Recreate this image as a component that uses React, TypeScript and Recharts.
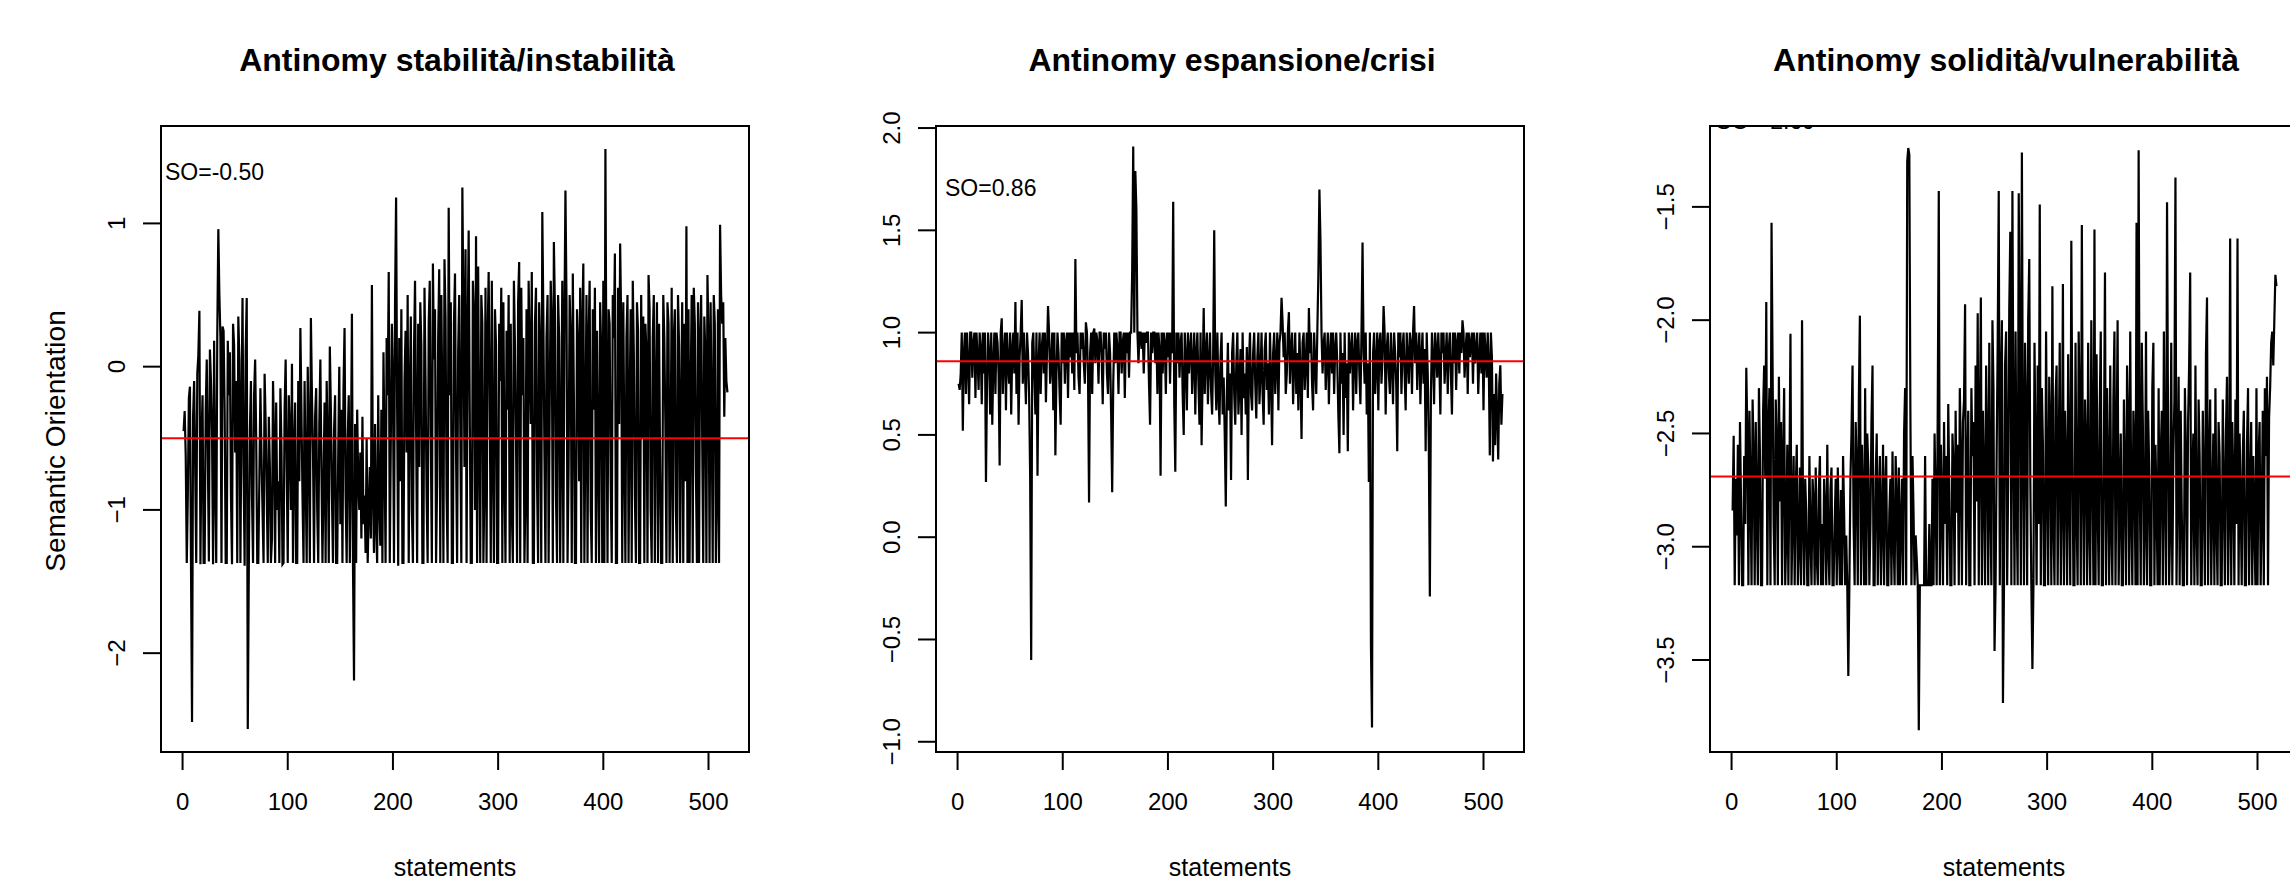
import { LineChart, Line, XAxis, YAxis, ReferenceLine } from 'recharts'

// semantic orientation per statement
const stabilita = [
  -0.45, -0.31, -0.62, -1.37, -0.9, -0.22, -0.14, -1.37, -2.48, -0.35, -0.1, -0.7, -1.37, -0.05, 0.08, 0.39, -1.38, -0.5, -0.2, -1.37,
  -1.37, -0.3, 0.05, -0.6, -1.36, 0.12, -0.1, -0.45, -1.38, 0.18, -0.8, -1.37, 0.22, 0.96, 0.5, 0.2, -1.37, 0.28, 0.25, -0.3,
  -1.37, -1.37, 0.18, -0.2, 0.1, -0.9, -1.38, 0.3, 0.15, -0.6, -0.1, -1.37, 0.35, 0.05, -1.37, -0.3, 0.48, -0.7, -1.39, 0.1,
  0.48, -2.53, -1.4, -0.45, -0.1, -0.9, -1.37, -0.2, 0.05, -0.5, -1.37, -1.37, -0.8, -0.15, -0.6, -1.0, -1.37, -0.05, -0.4, -0.9,
  -1.37, -0.35, -0.7, -1.37, -1.2, -0.1, -0.5, -1.37, -0.25, -1.0, -0.8, -1.37, -0.15, -0.55, -1.38, -1.37, -0.3, 0.05, -0.7, -1.37,
  -0.2, -0.45, -1.0, 0.02, -1.37, -0.6, -0.25, -1.37, -1.37, -0.1, -0.8, 0.27, -0.3, -0.9, -1.37, -0.1, -0.75, -1.37, 0.0, -0.5,
  -1.37, 0.34, -0.2, -0.6, -1.37, -0.35, -0.15, -1.0, -1.37, -0.4, 0.05, -0.7, -1.37, -0.8, -0.25, -1.37, -0.1, -0.55, -1.37, 0.14,
  -0.3, -0.9, -1.37, -0.45, -0.2, -1.37, -1.37, -0.6, 0.0, -1.1, -0.3, -1.37, -0.15, 0.27, -0.9, -1.37, -0.5, -0.2, -1.37, -0.7,
  0.37, -1.37, -2.19, -0.4, -1.37, -0.3, -0.8, -1.0, -0.6, -1.2, -0.35, -1.1, -0.9, -1.3, -0.5, -1.37, -1.0, -0.7, -1.2, 0.57,
  -0.9, -1.3, -0.4, -1.1, -1.37, -0.2, -0.95, -1.25, -0.3, -1.37, 0.1, -0.6, -1.37, 0.2, -0.2, 0.66, -1.37, -0.5, 0.3, -0.1,
  -1.37, 0.45, 1.18, -0.3, -1.39, 0.2, -0.8, 0.4, -1.37, -1.37, -0.1, 0.25, -0.6, 0.5, -1.37, -0.2, 0.35, -1.0, -1.37, 0.1,
  0.6, -0.4, -1.37, 0.3, -0.7, 0.45, 0.15, -1.37, -1.37, 0.55, -0.1, -0.9, -1.37, 0.3, 0.6, -0.5, -1.37, 0.72, 0.05, 0.4,
  -1.37, -0.8, 0.2, 0.68, -1.37, 0.5, -0.3, -1.37, 0.75, 0.35, -0.9, -1.37, 1.11, -0.2, 0.45, -1.37, -1.37, 0.3, 0.65, -0.6,
  -1.37, 0.1, 0.5, -0.4, -1.37, 1.25, 0.4, -0.7, 0.82, -1.37, 0.2, 0.95, -0.3, -1.37, -1.37, 0.6, 0.35, -1.0, 0.91, -1.37,
  0.7, -0.5, -1.37, 0.5, 0.3, -1.37, -0.8, 0.55, -1.37, 0.2, 0.66, -0.2, -1.37, 0.6, -0.6, -1.37, 0.4, 0.15, -1.37, -1.37,
  0.3, -0.1, 0.55, -1.37, 0.45, -0.7, -1.37, 0.25, -0.3, 0.5, -1.37, 0.3, -1.0, -1.37, 0.6, 0.15, -0.5, -1.37, 0.45, 0.73,
  -1.37, 0.55, -0.2, 0.2, -1.37, -0.9, 0.4, -1.37, 0.6, 0.1, -0.4, 0.66, -1.37, -1.37, 0.3, 0.55, -0.8, -1.37, 0.45, 0.1,
  -1.37, 1.08, 0.35, -0.6, -1.37, 0.2, 0.5, -1.37, -0.3, 0.6, 0.3, -1.37, 0.87, 0.4, -0.9, -1.37, 0.5, 0.2, -1.37, -0.5,
  0.6, -1.37, 0.3, 1.23, 0.45, -1.37, -0.7, 0.5, 0.2, -1.37, 0.65, -0.2, -1.37, -1.37, 0.4, 0.15, -0.8, 0.55, -1.37, 0.3,
  0.72, -1.37, -0.4, 0.5, -1.37, 0.2, 0.6, -1.0, -1.37, 0.4, -0.3, 0.55, -1.37, 0.25, -0.6, -1.37, 0.45, 0.1, -1.37, 0.6,
  -1.37, 1.52, -0.2, -1.37, 0.4, 0.3, -0.8, -1.37, 0.5, 0.2, 0.79, -1.37, -1.37, 0.55, -0.4, 0.86, 0.3, -1.37, 0.45, -0.6,
  -1.37, 0.2, 0.5, -1.37, -0.3, 0.4, -1.37, 0.6, 0.1, -0.9, -1.37, 0.45, 0.25, -1.37, -1.37, 0.5, -0.5, 0.35, -1.37, 0.3,
  0.1, -1.37, 0.64, 0.4, -1.0, -1.37, 0.2, 0.5, -1.37, -0.2, 0.45, -1.37, 0.3, -0.7, -1.37, -1.37, 0.5, 0.2, -0.4, -1.37,
  0.45, 0.3, -1.37, -0.6, 0.55, -1.37, 0.2, 0.4, -1.0, -1.37, 0.5, 0.15, -1.37, -0.3, 0.45, -1.37, 0.3, -0.8, 0.98, -1.37,
  0.4, -1.37, -0.2, 0.5, -1.37, 0.55, 0.3, -0.7, -1.37, 0.45, -1.37, 0.2, 0.5, -0.5, -1.37, 0.35, 0.1, -1.37, 0.64, 0.2,
  -1.37, 0.45, -0.3, -1.37, 0.5, 0.3, -1.37, -0.9, 0.4, -1.37, 0.99, 0.5, 0.3, 0.45, -0.35, 0.2, -0.1, -0.18,
]

const espansione = [
  0.75, 0.72, 0.8, 1.0, 0.52, 0.9, 1.0, 0.7, 1.0, 0.85, 0.65, 1.0, 1.0, 0.78, 0.95, 1.0, 0.68, 1.0, 0.88, 0.72,
  1.0, 0.92, 0.65, 1.0, 0.8, 1.0, 0.27, 0.75, 1.0, 0.9, 0.6, 1.0, 0.55, 0.85, 1.0, 0.7, 1.0, 0.95, 0.8, 0.35,
  1.0, 1.07, 0.7, 0.9, 1.0, 0.62, 1.0, 0.85, 0.75, 1.0, 0.6, 0.92, 1.0, 0.8, 1.15, 0.7, 1.0, 0.55, 0.88, 1.0,
  1.16, 0.75, 1.0, 0.82, 0.65, 1.0, 0.9, 0.7, 0.3, -0.6, 0.95, 1.0, 0.78, 0.6, 1.0, 0.3, 0.85, 1.0, 0.7, 0.92,
  1.0, 0.8, 1.0, 0.66, 0.9, 1.13, 1.0, 0.75, 0.85, 1.0, 0.62, 1.0, 0.4, 0.8, 1.0, 0.9, 0.7, 0.55, 1.0, 0.85,
  1.0, 0.75, 0.95, 1.0, 0.68, 1.0, 0.88, 1.0, 0.8, 1.0, 0.72, 1.36, 0.9, 1.0, 0.78, 0.7, 1.0, 0.92, 1.0, 0.85,
  0.75, 1.05, 1.0, 0.8, 0.17, 0.9, 1.0, 0.7, 1.0, 1.02, 0.85, 1.0, 0.95, 0.75, 1.0, 1.0, 0.88, 0.65, 1.0, 0.92,
  1.0, 0.8, 0.7, 1.0, 0.9, 0.6, 0.22, 0.75, 1.0, 0.85, 1.0, 0.92, 0.7, 1.0, 1.0, 0.8, 0.95, 1.0, 0.68, 1.0,
  0.9, 1.0, 0.78, 1.0, 1.0, 1.3, 1.91, 1.0, 1.79, 1.6, 1.0, 0.85, 1.0, 1.0, 0.92, 1.0, 0.8, 1.0, 0.95, 1.0,
  1.0, 0.75, 0.55, 1.0, 0.9, 1.0, 1.0, 0.85, 1.0, 0.7, 1.0, 0.92, 0.3, 1.0, 0.8, 1.0, 0.95, 0.7, 1.0, 0.88,
  1.0, 0.75, 1.0, 0.9, 1.64, 0.65, 0.32, 1.0, 0.85, 1.0, 0.78, 0.95, 1.0, 0.7, 0.5, 1.0, 0.88, 0.62, 1.0, 0.8,
  0.92, 1.0, 0.7, 0.85, 1.0, 0.6, 0.9, 1.0, 0.75, 0.55, 1.0, 0.45, 0.8, 1.12, 0.7, 0.9, 1.0, 0.65, 0.85, 1.0,
  0.72, 0.6, 0.9, 1.5, 0.8, 0.62, 1.0, 0.7, 0.55, 0.88, 1.0, 0.6, 0.78, 0.5, 0.15, 0.7, 0.95, 0.62, 0.8, 0.28,
  0.9, 1.0, 0.7, 0.55, 0.85, 1.0, 0.6, 0.75, 0.92, 0.5, 1.0, 0.68, 0.8, 0.6, 0.93, 0.28, 0.85, 1.0, 0.7, 0.62,
  0.9, 1.0, 0.75, 0.58, 0.88, 1.0, 0.65, 0.8, 1.0, 0.7, 0.55, 0.92, 1.0, 0.72, 0.85, 0.6, 1.0, 0.78, 0.45, 0.9,
  1.0, 0.7, 0.85, 1.0, 0.62, 0.95, 1.0, 1.17, 1.05, 0.88, 1.0, 0.7, 0.8, 1.0, 1.1, 0.75, 0.92, 1.0, 0.65, 0.85,
  1.0, 0.7, 0.9, 0.62, 1.0, 0.8, 0.48, 0.95, 1.0, 0.72, 0.85, 1.0, 0.68, 1.12, 0.9, 1.0, 0.75, 0.62, 1.0, 0.85,
  0.7, 1.0, 1.28, 1.7, 1.45, 1.0, 0.8, 0.95, 1.0, 0.72, 0.88, 1.0, 0.65, 0.9, 1.0, 0.8, 1.0, 0.7, 0.92, 1.0,
  0.85, 0.6, 0.41, 1.0, 0.75, 0.9, 0.5, 1.0, 0.68, 0.85, 0.42, 1.0, 0.8, 0.92, 1.0, 0.62, 0.88, 1.0, 0.7, 0.95,
  1.0, 0.8, 0.65, 1.0, 1.44, 0.9, 0.75, 1.0, 0.6, 0.85, 0.27, 1.0, -0.53, -0.93, 0.9, 1.0, 0.7, 0.85, 1.0, 0.62,
  0.95, 1.0, 0.75, 0.88, 1.13, 1.0, 0.6, 0.92, 1.0, 0.8, 0.7, 1.0, 0.85, 0.65, 1.0, 0.9, 0.75, 0.42, 1.0, 0.88,
  1.0, 0.7, 0.92, 1.0, 0.8, 0.62, 1.0, 0.88, 0.75, 1.0, 0.95, 0.7, 1.0, 1.13, 0.85, 1.0, 0.72, 0.9, 1.0, 0.65,
  0.88, 1.0, 0.75, 0.92, 0.42, 1.0, 0.8, 0.45, -0.29, 0.7, 1.0, 0.88, 0.65, 1.0, 0.92, 0.78, 1.0, 0.85, 0.6, 1.0,
  0.9, 1.0, 0.75, 0.88, 1.0, 0.7, 0.92, 1.0, 0.8, 0.6, 1.0, 0.85, 1.0, 0.72, 0.95, 1.0, 0.8, 1.0, 0.9, 1.06,
  1.0, 0.78, 0.92, 1.0, 0.7, 1.0, 0.88, 0.95, 1.0, 0.75, 1.0, 0.85, 0.92, 1.0, 0.7, 0.88, 1.0, 0.8, 1.0, 0.62,
  1.0, 0.9, 0.78, 1.0, 0.85, 0.4, 1.0, 0.88, 0.37, 0.7, 0.45, 0.8, 0.6, 0.38, 0.75, 0.84, 0.55, 0.7,
]

const solidita = [
  -2.84, -2.51, -3.17, -2.7, -2.95, -2.55, -3.17, -2.45, -2.8, -3.17, -3.17, -2.6, -2.9, -2.21, -2.5, -3.17, -2.4, -2.75, -3.17, -2.35,
  -2.6, -3.17, -2.45, -2.85, -3.17, -2.3, -2.6, -3.17, -3.17, -2.4, -2.2, -2.7, -1.92, -3.17, -2.5, -2.3, -3.17, -1.57, -2.2, -2.9,
  -3.17, -2.35, -2.55, -3.17, -2.25, -2.8, -2.45, -3.17, -2.6, -2.3, -3.17, -2.95, -2.55, -3.17, -2.7, -2.06, -3.17, -2.85, -2.6, -3.17,
  -2.75, -2.55, -3.17, -3.0, -2.65, -3.17, -2.0, -2.9, -3.17, -2.7, -2.85, -3.17, -3.17, -2.6, -2.95, -3.17, -2.7, -2.8, -3.17, -2.65,
  -3.05, -3.17, -2.75, -2.6, -3.17, -2.9, -3.17, -2.7, -2.85, -3.17, -2.55, -3.0, -3.17, -2.75, -2.65, -3.17, -3.17, -2.9, -2.7, -3.17,
  -2.65, -2.95, -3.17, -2.75, -3.17, -2.6, -2.85, -3.17, -2.95, -3.17, -3.57, -3.17, -2.7, -2.5, -2.2, -2.9, -3.17, -2.45, -2.65, -3.17,
  -2.35, -1.98, -3.17, -2.55, -2.8, -3.17, -2.3, -3.17, -2.5, -2.65, -3.17, -2.9, -2.45, -2.2, -3.17, -3.17, -2.7, -2.5, -3.17, -2.8,
  -2.6, -3.17, -2.9, -2.55, -3.17, -2.75, -2.6, -3.17, -3.17, -2.85, -2.7, -3.17, -2.58, -2.95, -3.17, -2.6, -2.8, -3.17, -2.65, -3.17,
  -2.9, -2.7, -3.17, -2.5, -2.3, -3.17, -1.3, -1.24, -1.27, -2.4, -3.17, -2.6, -2.85, -3.17, -2.95, -3.05, -3.17, -3.81, -3.17, -3.17,
  -3.17, -3.17, -3.17, -2.6, -3.17, -3.17, -3.17, -2.9, -3.17, -3.17, -2.7, -3.17, -2.5, -2.8, -3.17, -2.4, -1.43, -3.17, -2.55, -2.8,
  -3.17, -2.45, -2.9, -2.6, -3.17, -2.37, -2.75, -3.17, -3.17, -2.5, -2.65, -3.17, -2.4, -2.85, -2.55, -3.17, -2.3, -2.6, -3.17, -2.45,
  -2.35, -1.93, -3.17, -2.7, -2.4, -3.17, -3.17, -2.3, -2.6, -2.45, -3.17, -2.2, -2.8, -1.97, -3.17, -2.5, -1.9, -3.17, -2.4, -2.7,
  -3.17, -2.2, -2.55, -3.17, -2.1, -2.8, -3.17, -2.0, -2.3, -3.46, -3.17, -2.6, -2.1, -1.43, -3.17, -2.3, -2.0, -3.69, -3.17, -2.2,
  -2.05, -3.17, -2.7, -1.95, -1.61, -3.17, -1.43, -2.5, -3.17, -2.05, -2.8, -3.17, -1.44, -2.15, -3.17, -1.26, -2.6, -3.17, -2.1, -2.4,
  -3.17, -2.0, -1.73, -2.7, -3.17, -3.54, -3.17, -2.1, -2.6, -3.17, -2.2, -2.9, -1.49, -3.17, -2.3, -2.55, -3.17, -3.17, -2.05, -2.7,
  -3.17, -2.25, -2.5, -3.17, -1.85, -2.9, -3.17, -2.35, -2.2, -3.17, -2.6, -2.1, -3.17, -2.8, -1.84, -3.17, -2.4, -2.65, -3.17, -2.15,
  -2.75, -3.17, -1.65, -2.5, -3.17, -3.17, -2.1, -2.85, -3.17, -2.05, -2.4, -3.17, -1.58, -2.7, -3.17, -2.35, -2.55, -3.17, -2.1, -2.9,
  -3.17, -2.0, -2.6, -3.17, -1.6, -3.17, -2.15, -2.8, -3.17, -2.4, -2.05, -3.17, -3.17, -2.55, -1.79, -3.17, -2.3, -2.7, -3.17, -2.2,
  -2.9, -3.17, -2.35, -2.05, -3.17, -2.6, -2.0, -3.17, -2.8, -2.5, -3.17, -3.17, -2.35, -2.7, -3.17, -2.2, -2.45, -3.17, -2.05, -2.85,
  -3.17, -2.4, -2.6, -3.17, -1.57, -3.17, -1.25, -2.7, -3.17, -2.1, -2.45, -3.17, -2.9, -2.05, -3.17, -2.4, -2.65, -3.17, -3.17, -2.3,
  -2.1, -3.17, -2.55, -2.8, -3.17, -2.3, -3.17, -2.6, -2.4, -3.17, -2.05, -2.75, -3.17, -1.48, -2.5, -3.17, -2.9, -2.1, -3.17, -2.6,
  -2.35, -1.37, -3.17, -2.7, -2.25, -3.17, -2.4, -2.85, -3.17, -3.17, -2.3, -2.6, -3.17, -2.45, -2.2, -1.79, -3.17, -2.7, -2.5, -3.17,
  -2.2, -2.9, -3.17, -2.35, -2.6, -3.17, -3.17, -2.4, -2.75, -3.17, -2.15, -1.9, -3.17, -2.65, -2.35, -3.17, -2.8, -2.5, -3.17, -2.3,
  -2.9, -3.17, -2.45, -2.6, -3.17, -3.17, -2.35, -2.75, -3.17, -2.5, -2.25, -3.17, -2.85, -1.64, -3.17, -2.45, -2.7, -3.17, -2.35, -2.9,
  -1.64, -3.17, -2.5, -2.8, -3.17, -2.6, -2.4, -3.17, -3.17, -2.55, -2.3, -3.17, -2.75, -2.45, -3.17, -2.6, -2.9, -3.17, -2.3, -3.17,
  -2.6, -2.45, -3.17, -2.85, -2.4, -3.17, -2.3, -2.6, -2.25, -3.17, -2.43, -2.3, -2.1, -2.05, -2.2, -2.0, -1.8, -1.85,
]

const xTicks = [0, 100, 200, 300, 400, 500]
const xDomain: [number, number] = [-20.5, 538.5]

const FONT = '"Liberation Sans", Arial, Helvetica, sans-serif'
const BOX_TOP = 126
const BOX_BOTTOM = 752
const BOX_W = 588

const panels = [
  {
    title: 'Antinomy stabilità/instabilità',
    boxLeft: 161,
    values: stabilita,
    mean: -0.5,
    meanLabel: 'SO=-0.50',
    yDomain: [-2.69, 1.68] as [number, number],
    yTicks: [-2, -1, 0, 1],
    digits: 0,
  },
  {
    title: 'Antinomy espansione/crisi',
    boxLeft: 936,
    values: espansione,
    mean: 0.86,
    meanLabel: 'SO=0.86',
    yDomain: [-1.05, 2.01] as [number, number],
    yTicks: [-1, -0.5, 0, 0.5, 1, 1.5, 2],
    digits: 1,
  },
  {
    title: 'Antinomy solidità/vulnerabilità',
    boxLeft: 1710,
    values: solidita,
    mean: -2.69,
    meanLabel: 'SO=-2.69',
    yDomain: [-3.906, -1.143] as [number, number],
    yTicks: [-3.5, -3, -2.5, -2, -1.5],
    digits: 1,
  },
]

const fmt = (v: number, digits: number) => {
  const s = Math.abs(v).toFixed(digits)
  return v < 0 ? '\u2212' + s : s
}

function RotTick(props: any) {
  const { y, payload, digits } = props
  const bx = 114
  return (
    <text
      x={bx}
      y={y}
      transform={`rotate(-90 ${bx} ${y})`}
      textAnchor="middle"
      fontSize={24}
      fontFamily={FONT}
      fill="#000"
    >
      {fmt(payload.value, digits)}
    </text>
  )
}

function Panel({ p }: { p: (typeof panels)[number] }) {
  const data = p.values.map((v, i) => ({ statement: i + 1, so: v }))
  return (
    <div style={{ position: 'absolute', left: p.boxLeft - 150, top: 0 }}>
      <LineChart
        width={758}
        height={883}
        data={data}
        margin={{ top: BOX_TOP, right: 20, bottom: 0, left: 0 }}
      >
        <XAxis
          dataKey="statement"
          type="number"
          domain={xDomain}
          ticks={xTicks}
          allowDataOverflow
          interval={0}
          height={131}
          axisLine={false}
          tickSize={18}
          tickMargin={23}
          tickLine={{ stroke: '#000', strokeWidth: 2 }}
          tick={{ fontSize: 24, fill: '#000', fontFamily: FONT }}
        />
        <YAxis
          type="number"
          domain={p.yDomain}
          ticks={p.yTicks}
          allowDataOverflow
          interval={0}
          width={150}
          axisLine={false}
          tickSize={18}
          tickLine={{ stroke: '#000', strokeWidth: 2 }}
          tick={(t: any) => <RotTick {...t} digits={p.digits} />}
        />
        <Line
          type="linear"
          dataKey="so"
          stroke="#000"
          strokeWidth={2.2}
          dot={false}
          activeDot={false}
          isAnimationActive={false}
        />
        <ReferenceLine y={p.mean} stroke="#ff0000" strokeWidth={2} />
      </LineChart>
      <div
        style={{
          position: 'absolute',
          left: 149,
          top: BOX_TOP - 1,
          width: BOX_W + 2,
          height: BOX_BOTTOM - BOX_TOP + 2,
          border: '2px solid #000',
          boxSizing: 'border-box',
          pointerEvents: 'none',
        }}
      />
    </div>
  )
}

export default function App() {
  return (
    <div
      style={{
        position: 'fixed',
        left: 0,
        top: 0,
        width: 2290,
        height: 883,
        overflow: 'hidden',
        background: '#fff',
        fontFamily: FONT,
      }}
    >
      {panels.map((p) => (
        <Panel key={p.title} p={p} />
      ))}
      <svg
        width={2290}
        height={883}
        style={{ position: 'absolute', left: 0, top: 0, pointerEvents: 'none' }}
        fontFamily={FONT}
      >
        <defs>
          <clipPath id="clip-so3">
            <rect x={1700} y={127} width={600} height={20} />
          </clipPath>
        </defs>
        {panels.map((p) => {
          const cx = p.boxLeft + BOX_W / 2 + 2
          return (
            <g key={p.title}>
              <text x={cx} y={70.5} textAnchor="middle" fontSize={32} fontWeight="bold" fill="#000">
                {p.title}
              </text>
              <text x={p.boxLeft + BOX_W / 2} y={876} textAnchor="middle" fontSize={25} fill="#000">
                statements
              </text>
            </g>
          )
        })}
        <text x={165} y={180} fontSize={23} fill="#000">
          {panels[0].meanLabel}
        </text>
        <text x={945} y={196} fontSize={23} fill="#000">
          {panels[1].meanLabel}
        </text>
        <text x={1716} y={129} fontSize={23} fill="#000" clipPath="url(#clip-so3)">
          {panels[2].meanLabel}
        </text>
        <text
          x={65}
          y={441}
          transform="rotate(-90 65 441)"
          textAnchor="middle"
          fontSize={28}
          fill="#000"
        >
          Semantic Orientation
        </text>
      </svg>
    </div>
  )
}
